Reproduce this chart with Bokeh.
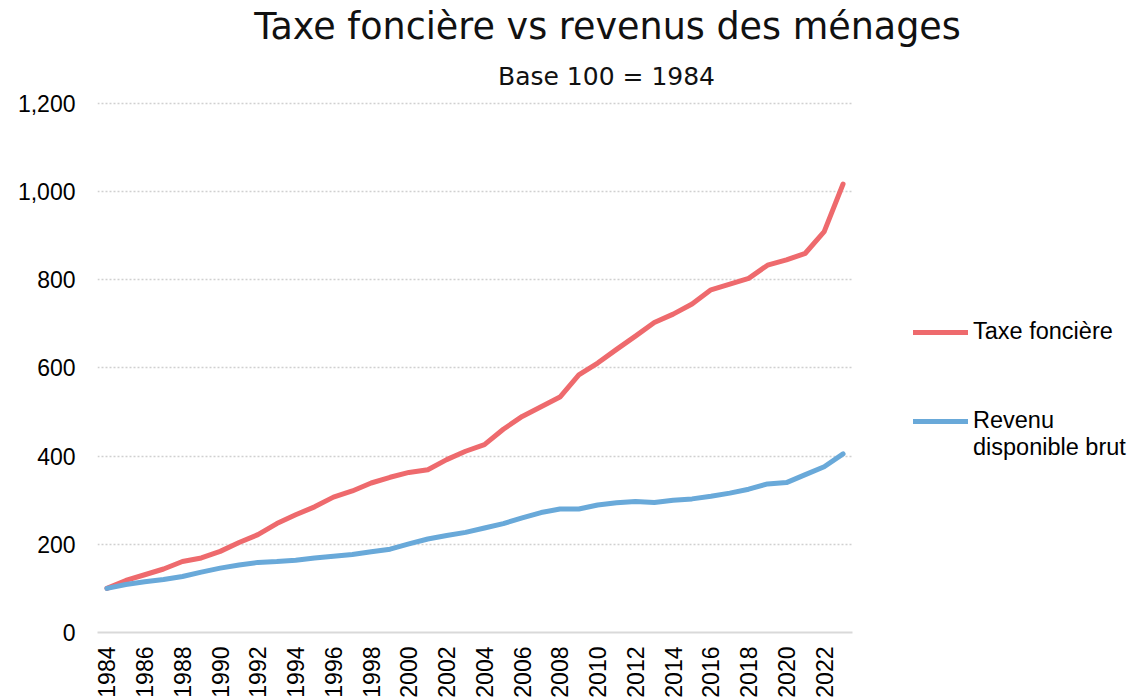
import math
from bokeh.plotting import figure
from bokeh.models import (Range1d, FixedTicker, NumeralTickFormatter, Label,
                          ColumnDataSource, Legend, LegendItem)
from bokeh.embed import file_html
from bokeh.resources import INLINE

years = [1984, 1985, 1986, 1987, 1988, 1989, 1990, 1991, 1992, 1993,
         1994, 1995, 1996, 1997, 1998, 1999, 2000, 2001, 2002, 2003,
         2004, 2005, 2006, 2007, 2008, 2009, 2010, 2011, 2012, 2013,
         2014, 2015, 2016, 2017, 2018, 2019, 2020, 2021, 2022, 2023]

taxe_fonciere = [100, 118, 131, 144, 161, 169, 184, 204, 222, 247,
                 267, 285, 307, 321, 339, 352, 363, 369, 392, 411,
                 426, 461, 490, 512, 534, 584, 611, 642, 672, 703,
                 722, 745, 777, 790, 803, 833, 845, 860, 909, 1017]

revenu_disponible = [100, 109, 115, 120, 127, 137, 146, 153, 159, 161,
                     164, 169, 173, 177, 183, 189, 201, 212, 220, 227,
                     237, 247, 260, 272, 280, 280, 289, 294, 297, 295,
                     300, 303, 309, 316, 325, 337, 340, 358, 376, 405]

x_tick_years = [1984, 1986, 1988, 1990, 1992, 1994, 1996, 1998, 2000, 2002,
                2004, 2006, 2008, 2010, 2012, 2014, 2016, 2018, 2020, 2022]
x_tick_labels = ["1984", "1986", "1988", "1990", "1992", "1994", "1996", "1998",
                 "2000", "2002", "2004", "2006", "2008", "2010", "2012", "2014",
                 "2016", "2018", "2020", "2022"]
y_ticks = [0, 200, 400, 600, 800, 1000, 1200]

title_text = "Taxe foncière vs revenus des ménages"
subtitle_text = "Base 100 = 1984"
series_names = ["Taxe foncière", "Revenu", "disponible brut"]

RED = "#EE6A6D"
BLUE = "#69A9D9"
AXIS_FONT = "Liberation Sans"
TITLE_FONT = "DejaVu Sans"

W, H = 1133, 700
LEFT, BOTTOM = 97, 67           # frame origin (px from left / from bottom)
PLOT_W, PLOT_H = 755, 530       # size of the area holding the data
X0, X1 = 1983.5, 2023.5
Y0, Y1 = 0, 1200

frame_w = W - LEFT
frame_h = H - BOTTOM
x_end = X0 + (X1 - X0) * frame_w / PLOT_W
y_end = Y0 + (Y1 - Y0) * frame_h / PLOT_H

p = figure(width=W, height=H, output_backend="svg", toolbar_location=None,
           x_range=Range1d(X0, x_end), y_range=Range1d(Y0, y_end),
           min_border_left=LEFT, min_border_right=0, min_border_top=0,
           min_border_bottom=BOTTOM)
p.outline_line_color = None
p.background_fill_color = "white"
p.border_fill_color = "white"

# x axis
p.xaxis.ticker = FixedTicker(ticks=x_tick_years)
p.xaxis.major_label_overrides = {y: t for y, t in zip(x_tick_years, x_tick_labels)}
p.xaxis.bounds = (X0, X1)
p.xaxis.axis_line_color = "#d9d9d9"
p.xaxis.axis_line_width = 2
p.xaxis.major_tick_line_color = None
p.xaxis.minor_tick_line_color = None
p.xaxis.major_tick_out = 0
p.xaxis.major_tick_in = 0
p.xaxis.major_label_orientation = math.pi / 2
p.xaxis.major_label_standoff = 14
p.xaxis.major_label_text_font = AXIS_FONT
p.xaxis.major_label_text_font_size = "23px"
p.xaxis.major_label_text_color = "#000000"

# y axis
p.yaxis.ticker = FixedTicker(ticks=y_ticks)
p.yaxis.formatter = NumeralTickFormatter(format="0,0")
p.yaxis.axis_line_color = None
p.yaxis.major_tick_line_color = None
p.yaxis.minor_tick_line_color = None
p.yaxis.major_tick_out = 0
p.yaxis.major_tick_in = 0
p.yaxis.major_label_standoff = 22
p.yaxis.major_label_text_font = AXIS_FONT
p.yaxis.major_label_text_font_size = "23px"
p.yaxis.major_label_text_color = "#000000"

p.xgrid.visible = False
p.ygrid.ticker = FixedTicker(ticks=y_ticks[1:])
p.ygrid.cross_bounds = (X0, X1)
p.ygrid.grid_line_color = "#d0d0d0"
p.ygrid.grid_line_dash = "2 2"
p.ygrid.grid_line_width = 1.5

src = ColumnDataSource(dict(year=years, taxe=taxe_fonciere, rev=revenu_disponible))
r_taxe = p.line("year", "taxe", source=src, line_color=RED, line_width=5,
                line_cap="round", line_join="round")
r_rev = p.line("year", "rev", source=src, line_color=BLUE, line_width=5,
               line_cap="round", line_join="round")
r_blank = p.line([], [], line_alpha=0)

# title and subtitle (frame-relative screen units)
p.add_layout(Label(x=510, y=606, x_units="screen", y_units="screen", text=title_text,
                   text_align="center", text_baseline="alphabetic",
                   text_font=TITLE_FONT, text_font_size="36.5px", text_color="#111111"))
p.add_layout(Label(x=509, y=556, x_units="screen", y_units="screen", text=subtitle_text,
                   text_align="center", text_baseline="alphabetic",
                   text_font=TITLE_FONT, text_font_size="25px", text_color="#111111"))

# legends
def make_legend(items, loc):
    return Legend(items=items, location=loc, orientation="vertical",
                  label_text_font=AXIS_FONT, label_text_font_size="23.5px",
                  label_text_color="#000000", glyph_width=55, glyph_height=26,
                  label_height=26, label_standoff=5, spacing=0, padding=0, margin=0,
                  border_line_alpha=0, background_fill_alpha=0)

lg1 = make_legend([LegendItem(label=series_names[0], renderers=[r_taxe])], (816, 287))
lg2 = make_legend([LegendItem(label=series_names[1], renderers=[r_rev]),
                   LegendItem(label=series_names[2], renderers=[r_blank])], (816, 171))
p.add_layout(lg1, "center")
p.add_layout(lg2, "center")

open("out.html", "w").write(file_html(p, INLINE))
